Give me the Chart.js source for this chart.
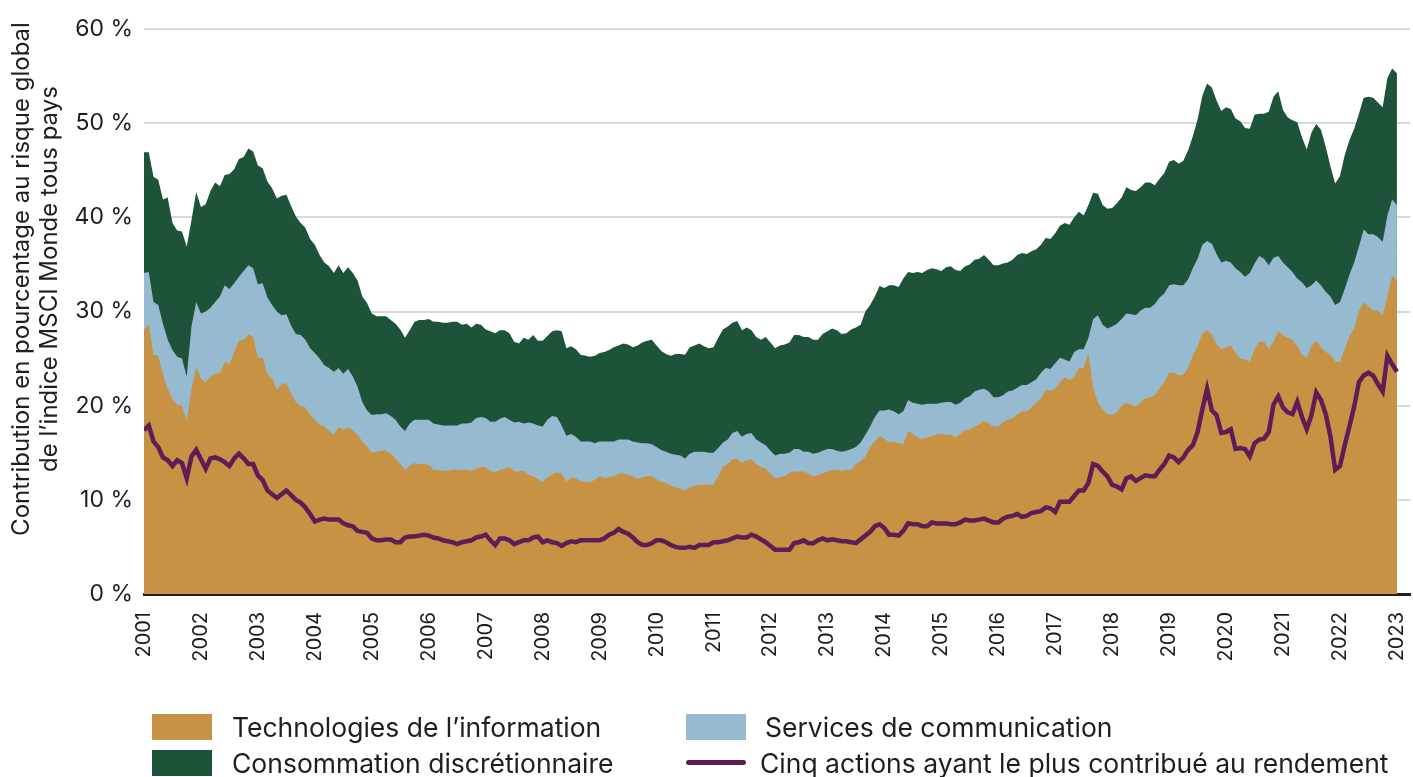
<!DOCTYPE html>
<html lang="fr">
<head>
<meta charset="utf-8">
<script src="https://cdn.jsdelivr.net/npm/chart.js@4.4.0/dist/chart.umd.min.js"></script>
<style>
  html, body { margin: 0; padding: 0; background: #fff; }
  #wrap { position: relative; width: 1413px; height: 777px; font-family: Inter, sans-serif; color: #1e1e1e; }
  #chart { position: absolute; left: 0; top: 0; }
  .sw { position: absolute; width: 60px; height: 26px; }
  .ln { position: absolute; width: 60px; height: 5px; border-radius: 3px; }
  .lbl { position: absolute; font-size: 26.5px; white-space: nowrap; transform: translateY(-50%); }
</style>
</head>
<body>
<div id="wrap">
  <canvas id="chart" width="1413" height="777"></canvas>
  <span class="sw" style="left:152px;top:714px;background:#C89244"></span>
  <span class="lbl" style="left:232px;top:727px">Technologies de l’information</span>
  <span class="sw" style="left:686px;top:714px;background:#96BACF"></span>
  <span class="lbl" style="left:765px;top:727px">Services de communication</span>
  <span class="sw" style="left:152px;top:750px;background:#1D5339"></span>
  <span class="lbl" style="left:232px;top:763px">Consommation discrétionnaire</span>
  <span class="ln" style="left:686px;top:760px;background:#5E1D54"></span>
  <span class="lbl" style="left:760px;top:763px">Cinq actions ayant le plus contribué au rendement</span>
</div>
<script>
// monthly values, Jan 2001 to Jan 2023 (one row per year)
const startYear = 2001;
const years = [2001, 2002, 2003, 2004, 2005, 2006, 2007, 2008, 2009, 2010, 2011, 2012,
               2013, 2014, 2015, 2016, 2017, 2018, 2019, 2020, 2021, 2022, 2023];

const tech = [
  28.0, 28.6, 25.4, 25.3, 23.3, 21.8, 20.7, 20.1, 20.0, 18.4, 21.7, 24.1,
  22.9, 22.5, 23.1, 23.4, 23.5, 24.6, 24.4, 25.7, 26.9, 27.0, 27.6, 27.3,
  25.1, 25.1, 23.4, 22.9, 21.7, 22.3, 22.4, 21.3, 20.4, 20.0, 19.8, 19.0,
  18.5, 18.0, 17.8, 17.3, 16.9, 17.7, 17.5, 17.7, 17.4, 16.9, 16.2, 15.7,
  15.0, 15.1, 15.2, 15.2, 14.9, 14.4, 13.8, 13.2, 13.6, 13.9, 13.8, 13.8,
  13.7, 13.2, 13.2, 13.1, 13.1, 13.2, 13.2, 13.2, 13.2, 13.1, 13.3, 13.5,
  13.5, 13.1, 12.9, 13.2, 13.3, 13.5, 13.0, 13.0, 13.1, 12.7, 12.5, 12.2,
  11.9, 12.4, 12.7, 12.9, 12.8, 11.9, 12.4, 12.3, 12.0, 11.9, 11.9, 12.1,
  12.5, 12.3, 12.4, 12.5, 12.8, 12.8, 12.7, 12.5, 12.2, 12.4, 12.5, 12.5,
  12.2, 11.9, 11.8, 11.5, 11.3, 11.2, 11.0, 11.3, 11.5, 11.6, 11.6, 11.6,
  11.6, 12.5, 13.5, 13.8, 14.3, 14.4, 13.9, 14.2, 14.3, 13.8, 13.5, 13.3,
  12.8, 12.3, 12.4, 12.5, 12.9, 13.0, 13.0, 13.0, 12.8, 12.5, 12.6, 12.8,
  13.0, 13.2, 13.2, 13.1, 13.2, 13.2, 13.8, 14.1, 14.6, 15.6, 16.2, 16.8,
  16.5, 16.1, 16.2, 16.0, 15.9, 17.3, 17.0, 16.6, 16.5, 16.6, 16.8, 16.9,
  17.0, 16.9, 17.0, 16.6, 17.0, 17.4, 17.5, 17.8, 18.0, 18.4, 18.1, 17.8,
  17.8, 18.2, 18.5, 18.7, 19.1, 19.4, 19.4, 19.8, 20.3, 20.8, 21.7, 21.6,
  21.8, 22.5, 23.0, 22.7, 23.1, 24.0, 24.0, 25.6, 21.9, 20.3, 19.6, 19.1,
  19.0, 19.3, 20.0, 20.3, 20.1, 19.9, 20.3, 20.8, 20.9, 21.1, 21.9, 22.5,
  23.5, 23.5, 23.2, 23.3, 24.0, 25.3, 26.3, 27.7, 28.0, 27.5, 26.5, 26.0,
  26.2, 26.4, 25.6, 25.0, 24.9, 24.7, 26.0, 26.8, 26.8, 26.0, 26.8, 27.9,
  27.5, 27.2, 27.0, 26.3, 25.4, 25.1, 26.4, 26.9, 26.2, 25.7, 25.4, 24.7,
  24.6, 26.0, 27.4, 28.2, 30.0, 31.0, 30.5, 30.1, 30.1, 29.6, 31.6, 33.8,
  33.3
];

const comm = [
  6.1, 5.6, 5.6, 5.4, 5.4, 5.2, 5.2, 5.1, 5.0, 4.7, 6.7, 6.9,
  6.9, 7.5, 7.3, 7.6, 8.1, 8.2, 8.0, 7.3, 6.8, 7.3, 7.3, 7.3,
  7.8, 7.9, 8.1, 7.8, 8.3, 7.3, 7.3, 7.2, 7.2, 7.5, 7.2, 7.1,
  7.1, 7.0, 6.5, 6.7, 6.7, 6.3, 5.9, 6.2, 5.7, 5.1, 4.2, 3.8,
  4.0, 4.0, 3.9, 4.0, 4.0, 4.1, 4.0, 4.1, 4.5, 4.6, 4.7, 4.7,
  4.8, 4.9, 4.8, 4.8, 4.8, 4.7, 4.7, 4.9, 4.9, 5.1, 5.4, 5.3,
  5.2, 5.2, 5.4, 5.4, 5.5, 5.0, 5.2, 5.3, 5.0, 5.5, 5.6, 5.7,
  5.9, 6.1, 6.2, 5.9, 5.1, 4.9, 4.6, 4.4, 4.2, 4.3, 4.3, 3.9,
  3.7, 3.9, 3.8, 3.7, 3.6, 3.6, 3.7, 3.7, 3.9, 3.6, 3.5, 3.4,
  3.4, 3.4, 3.3, 3.4, 3.5, 3.5, 3.4, 3.6, 3.6, 3.5, 3.5, 3.4,
  3.4, 3.0, 2.6, 2.6, 2.8, 2.9, 2.8, 2.8, 2.8, 2.6, 2.6, 2.5,
  2.4, 2.4, 2.5, 2.4, 2.1, 2.4, 2.4, 2.1, 2.3, 2.4, 2.4, 2.4,
  2.4, 2.2, 2.0, 2.0, 2.0, 2.2, 1.8, 2.0, 2.3, 2.2, 2.6, 2.7,
  3.0, 3.5, 3.2, 3.1, 3.5, 3.3, 3.3, 3.6, 3.6, 3.6, 3.4, 3.3,
  3.3, 3.5, 3.4, 3.5, 3.3, 3.4, 3.5, 3.7, 3.7, 3.4, 3.4, 3.1,
  3.1, 2.9, 3.0, 2.9, 2.8, 2.8, 2.8, 2.7, 2.5, 2.7, 2.3, 2.3,
  2.7, 2.6, 1.9, 2.0, 2.6, 2.0, 2.0, 1.6, 7.3, 9.3, 9.0, 9.1,
  9.4, 9.4, 9.2, 9.5, 9.6, 9.7, 9.8, 9.6, 9.5, 9.7, 9.6, 9.4,
  9.3, 9.4, 9.6, 9.5, 9.4, 9.3, 9.3, 9.4, 9.5, 9.7, 9.6, 9.2,
  9.2, 8.8, 9.0, 9.2, 8.8, 9.4, 9.1, 9.1, 8.8, 8.9, 8.9, 8.0,
  7.7, 7.5, 7.2, 7.2, 7.7, 7.4, 6.4, 6.4, 6.6, 6.4, 6.2, 6.0,
  6.4, 6.4, 6.5, 7.0, 6.9, 7.7, 7.7, 8.1, 7.8, 7.8, 8.6, 8.1,
  8.0
];

const cons = [
  12.8, 12.7, 13.3, 13.3, 13.2, 15.1, 13.5, 13.4, 13.5, 13.8, 11.3, 11.7,
  11.3, 11.4, 12.4, 12.7, 11.7, 11.7, 12.2, 12.1, 12.5, 12.1, 12.4, 12.4,
  12.6, 12.2, 12.3, 12.4, 12.0, 12.7, 12.7, 12.7, 12.5, 11.9, 11.9, 11.6,
  11.5, 11.0, 10.9, 10.8, 10.5, 10.9, 10.7, 10.8, 11.0, 11.3, 11.2, 11.4,
  10.8, 10.4, 10.4, 10.3, 10.2, 10.2, 10.3, 9.9, 9.9, 10.4, 10.6, 10.6,
  10.7, 10.8, 10.9, 10.9, 10.9, 11.0, 11.0, 10.5, 10.6, 10.1, 10.0, 9.8,
  9.4, 9.6, 9.4, 9.4, 9.2, 9.2, 8.6, 8.3, 9.1, 8.8, 9.4, 9.0,
  9.1, 8.9, 9.0, 9.2, 10.0, 9.3, 9.3, 9.3, 9.2, 9.1, 9.0, 9.3,
  9.4, 9.5, 9.7, 10.0, 10.0, 10.2, 10.1, 10.0, 10.3, 10.7, 10.9, 11.1,
  10.8, 10.5, 10.4, 10.4, 10.7, 10.8, 11.0, 11.3, 11.3, 11.5, 11.2, 11.1,
  11.2, 11.7, 12.0, 12.0, 11.7, 11.7, 11.3, 11.3, 10.9, 10.9, 10.9, 11.5,
  11.5, 11.4, 11.5, 11.6, 11.7, 12.1, 12.1, 12.2, 12.2, 12.1, 12.0, 12.4,
  12.5, 12.8, 12.8, 12.5, 12.5, 12.7, 12.7, 12.5, 13.1, 12.9, 12.8, 13.2,
  13.0, 13.2, 13.4, 13.5, 14.1, 13.6, 13.8, 14.0, 14.0, 14.2, 14.4, 14.3,
  14.0, 14.3, 14.4, 14.3, 14.0, 14.0, 14.0, 14.0, 13.9, 14.2, 14.0, 14.0,
  14.0, 14.0, 13.7, 13.9, 14.1, 14.0, 13.9, 13.9, 13.8, 13.6, 13.8, 13.8,
  13.8, 14.0, 14.5, 14.5, 14.3, 14.6, 14.2, 14.1, 13.4, 12.9, 12.7, 12.7,
  12.6, 12.8, 12.9, 13.4, 13.2, 13.2, 13.1, 13.3, 13.3, 12.6, 12.6, 12.8,
  13.1, 13.2, 12.9, 13.2, 13.7, 14.0, 14.8, 15.8, 16.7, 16.6, 16.3, 16.1,
  16.3, 16.3, 15.9, 16.0, 15.8, 15.3, 15.8, 15.1, 15.4, 16.3, 17.1, 17.5,
  16.2, 15.9, 16.1, 16.6, 15.4, 14.7, 16.2, 16.6, 16.5, 15.4, 13.8, 12.9,
  13.4, 14.2, 14.3, 14.2, 14.1, 14.0, 14.6, 14.5, 14.3, 14.3, 14.6, 13.9,
  14.0
];

const topFive = [
  17.4, 17.9, 16.2, 15.6, 14.5, 14.2, 13.6, 14.2, 13.9, 12.3, 14.6, 15.3,
  14.3, 13.3, 14.4, 14.5, 14.3, 14.0, 13.6, 14.4, 14.9, 14.4, 13.8, 13.8,
  12.6, 12.1, 11.0, 10.6, 10.2, 10.6, 11.0, 10.5, 10.0, 9.7, 9.2, 8.5,
  7.7, 7.9, 8.0, 7.9, 7.9, 7.9, 7.5, 7.3, 7.2, 6.7, 6.6, 6.5,
  5.9, 5.7, 5.7, 5.8, 5.8, 5.5, 5.5, 6.0, 6.1, 6.1, 6.2, 6.3,
  6.2, 6.0, 5.9, 5.7, 5.6, 5.5, 5.3, 5.5, 5.6, 5.7, 6.0, 6.1,
  6.3, 5.7, 5.2, 5.9, 5.9, 5.7, 5.3, 5.5, 5.7, 5.7, 6.0, 6.1,
  5.5, 5.7, 5.5, 5.4, 5.1, 5.4, 5.6, 5.5, 5.7, 5.7, 5.7, 5.7,
  5.7, 5.9, 6.3, 6.5, 6.9, 6.6, 6.4, 6.0, 5.5, 5.2, 5.2, 5.4,
  5.7, 5.7, 5.5, 5.2, 5.0, 4.9, 4.9, 5.0, 4.9, 5.2, 5.2, 5.2,
  5.5, 5.5, 5.6, 5.7, 5.9, 6.1, 6.0, 6.0, 6.3, 6.1, 5.8, 5.5,
  5.1, 4.7, 4.7, 4.7, 4.7, 5.4, 5.5, 5.7, 5.4, 5.4, 5.7, 5.9,
  5.7, 5.8, 5.7, 5.6, 5.6, 5.5, 5.4, 5.8, 6.2, 6.6, 7.2, 7.4,
  7.0, 6.3, 6.3, 6.2, 6.7, 7.5, 7.4, 7.4, 7.2, 7.2, 7.6, 7.5,
  7.5, 7.5, 7.4, 7.4, 7.6, 7.9, 7.8, 7.8, 7.9, 8.0, 7.8, 7.6,
  7.6, 8.0, 8.2, 8.3, 8.5, 8.2, 8.3, 8.6, 8.7, 8.8, 9.2, 9.1,
  8.7, 9.8, 9.8, 9.8, 10.4, 11.0, 11.0, 11.8, 13.8, 13.6, 13.0, 12.5,
  11.6, 11.4, 11.1, 12.3, 12.5, 12.0, 12.3, 12.6, 12.5, 12.5, 13.2, 13.8,
  14.7, 14.5, 14.0, 14.5, 15.3, 15.8, 17.2, 19.6, 21.8, 19.5, 19.0, 17.1,
  17.2, 17.5, 15.4, 15.5, 15.4, 14.6, 16.0, 16.4, 16.5, 17.2, 20.1, 21.0,
  19.8, 19.3, 19.1, 20.4, 18.8, 17.5, 19.0, 21.4, 20.6, 19.1, 16.7, 13.2,
  13.6, 15.8, 17.8, 19.9, 22.5, 23.2, 23.5, 23.2, 22.3, 21.5, 25.3, 24.4,
  23.6
];

const yTicks = [0, 10, 20, 30, 40, 50, 60];
const yTitleLines = ['Contribution en pourcentage au risque global', 'de l’indice MSCI Monde tous pays'];

const colTech = '#C89244';
const colComm = '#96BACF';
const colCons = '#1D5339';
const colFive = '#5E1D54';

function toPoints(values) {
  return values.map((v, i) => ({ x: startYear + i / 12, y: v }));
}

// y axis title, drawn by hand so it can sit a little above centre like the original
const yTitlePlugin = {
  id: 'yTitle',
  afterDraw(chart) {
    const ctx = chart.ctx;
    ctx.save();
    ctx.translate(0, 279);
    ctx.rotate(-Math.PI / 2);
    ctx.font = '24px Inter';
    ctx.fillStyle = '#1e1e1e';
    ctx.textAlign = 'center';
    ctx.textBaseline = 'middle';
    ctx.fillText(yTitleLines[0], 0, 22);
    ctx.fillText(yTitleLines[1], 0, 50);
    ctx.restore();
  }
};

Chart.defaults.font.family = 'Inter, sans-serif';
Chart.defaults.color = '#1e1e1e';

new Chart(document.getElementById('chart'), {
  type: 'line',
  data: {
    datasets: [
      { label: 'Technologies de l’information', data: toPoints(tech), stack: 'sectors', order: 1,
        backgroundColor: colTech, borderColor: colTech, borderWidth: 0, fill: 'origin', pointRadius: 0 },
      { label: 'Services de communication', data: toPoints(comm), stack: 'sectors', order: 1,
        backgroundColor: colComm, borderColor: colComm, borderWidth: 0, fill: 'origin', pointRadius: 0 },
      { label: 'Consommation discrétionnaire', data: toPoints(cons), stack: 'sectors', order: 1,
        backgroundColor: colCons, borderColor: colCons, borderWidth: 0, fill: 'origin', pointRadius: 0 },
      { label: 'Cinq actions ayant le plus contribué au rendement', data: toPoints(topFive), stack: 'five', order: 0,
        borderColor: colFive, borderWidth: 4.5, fill: false, pointRadius: 0 }
    ]
  },
  options: {
    responsive: false,
    animation: false,
    layout: { padding: { top: 29, right: 3, bottom: 117, left: 0 } },
    plugins: { legend: { display: false }, tooltip: { enabled: false } },
    scales: {
      x: {
        type: 'linear',
        min: 2001,
        max: 2023.23, // gridlines run a little past the last month
        afterFit(scale) {
          scale.height = 66;
          scale.paddingLeft = 0;
          scale.paddingRight = 0;
        },
        afterBuildTicks(scale) { scale.ticks = years.map(v => ({ value: v })); },
        ticks: {
          autoSkip: false,
          minRotation: 90,
          maxRotation: 90,
          padding: 18,
          font: { size: 20 },
          callback: v => String(v)
        },
        grid: { display: false, drawTicks: false },
        border: { display: true, color: '#231f20', width: 3 }
      },
      y: {
        stacked: true,
        min: 0,
        max: 60,
        afterFit(scale) { scale.width = 144; },
        afterBuildTicks(scale) { scale.ticks = yTicks.map(v => ({ value: v })); },
        ticks: {
          padding: 11,
          font: { size: 23 },
          callback: v => v + ' %'
        },
        grid: { color: '#d9d9d9', lineWidth: 2, drawTicks: false },
        border: { display: false }
      }
    }
  },
  plugins: [yTitlePlugin]
});
</script>
</body>
</html>
